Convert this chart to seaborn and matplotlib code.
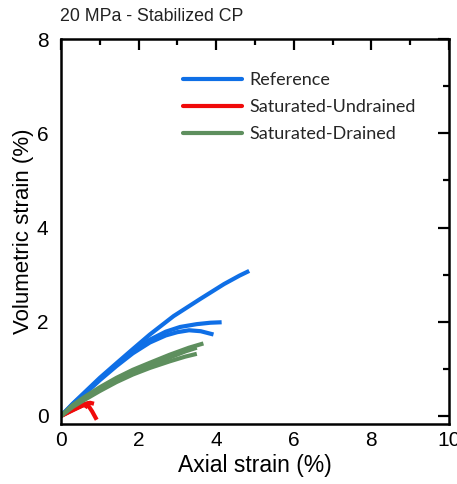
import numpy as np
import pandas as pd
import matplotlib
matplotlib.use("Agg")
import matplotlib.pyplot as plt
from matplotlib.lines import Line2D
from matplotlib.ticker import MultipleLocator
import seaborn as sns

# ---- data ----
ref1_x = [0.0, 0.3, 0.58, 1.0, 1.43, 1.85, 2.29, 2.9, 3.58, 4.2, 4.6, 4.85]
ref1_y = [0.0, 0.26, 0.48, 0.81, 1.12, 1.42, 1.73, 2.12, 2.48, 2.80, 2.98, 3.08]
ref2_x = [0.0, 0.3, 0.6, 1.0, 1.43, 1.85, 2.29, 2.7, 3.07, 3.5, 3.85, 4.14]
ref2_y = [0.0, 0.25, 0.47, 0.78, 1.09, 1.37, 1.62, 1.79, 1.89, 1.95, 1.98, 1.99]
ref3_x = [0.0, 0.3, 0.6, 1.0, 1.43, 1.85, 2.29, 2.7, 3.0, 3.3, 3.6, 3.93]
ref3_y = [0.0, 0.24, 0.46, 0.76, 1.06, 1.33, 1.56, 1.71, 1.78, 1.82, 1.80, 1.73]

und1_x = [0.0, 0.2, 0.4, 0.6, 0.75, 0.85]
und1_y = [0.0, 0.10, 0.19, 0.25, 0.28, 0.26]
und2_x = [0.0, 0.3, 0.55, 0.65, 0.72, 0.8, 0.92]
und2_y = [0.0, 0.12, 0.22, 0.25, 0.20, 0.10, -0.08]
und3_x = [0.0, 0.3, 0.6, 0.7, 0.62]
und3_y = [0.0, 0.13, 0.24, 0.27, 0.17]

dr1_x = [0.0, 0.3, 0.58, 1.0, 1.43, 1.85, 2.29, 2.8, 3.3, 3.67]
dr1_y = [0.0, 0.23, 0.39, 0.61, 0.81, 0.98, 1.13, 1.30, 1.45, 1.54]
dr2_x = [0.0, 0.3, 0.58, 1.0, 1.43, 1.85, 2.29, 2.8, 3.2, 3.5]
dr2_y = [0.0, 0.21, 0.36, 0.57, 0.77, 0.93, 1.08, 1.24, 1.37, 1.45]
dr3_x = [0.0, 0.3, 0.58, 1.0, 1.43, 1.85, 2.29, 2.8, 3.2, 3.5]
dr3_y = [0.0, 0.19, 0.33, 0.53, 0.72, 0.88, 1.02, 1.16, 1.26, 1.32]

labels = ["Reference", "Saturated-Undrained", "Saturated-Drained"]
colors = ["#0f6fe6", "#f00a0a", "#5e8f5e"]

curves = [
    (labels[0], "r1", ref1_x, ref1_y), (labels[0], "r2", ref2_x, ref2_y), (labels[0], "r3", ref3_x, ref3_y),
    (labels[1], "u1", und1_x, und1_y), (labels[1], "u2", und2_x, und2_y), (labels[1], "u3", und3_x, und3_y),
    (labels[2], "d1", dr1_x, dr1_y), (labels[2], "d2", dr2_x, dr2_y), (labels[2], "d3", dr3_x, dr3_y),
]
rows = []
for grp, uid, xs, ys in curves:
    for i, (x, y) in enumerate(zip(xs, ys)):
        rows.append({"group": grp, "unit": uid, "order": i, "x": x, "y": y})
df = pd.DataFrame(rows)

sns.set_theme(style="white")
plt.rcParams["font.family"] = ["Liberation Sans", "DejaVu Sans"]

fig = plt.figure(figsize=(4.57, 4.84), dpi=100)
ax = fig.add_axes([0.1335, 0.124, 0.849, 0.795])

palette = dict(zip(labels, colors))
sns.lineplot(data=df, x="x", y="y", hue="group", units="unit", estimator=None,
             sort=False, palette=palette, linewidth=3.0, legend=False, ax=ax,
             solid_capstyle="butt")

ax.set_xlim(0, 10)
ax.set_ylim(-0.17, 8)
ax.xaxis.set_major_locator(MultipleLocator(2))
ax.xaxis.set_minor_locator(MultipleLocator(1))
ax.yaxis.set_major_locator(MultipleLocator(2))
ax.yaxis.set_minor_locator(MultipleLocator(1))
ax.tick_params(which="both", direction="in", top=True, right=True, width=1.6,
               color="black", labelsize=15, labelcolor="black")
ax.tick_params(which="major", length=8)
ax.tick_params(axis="x", which="major", pad=5)
ax.tick_params(axis="y", which="major", pad=9)
ax.tick_params(which="minor", length=4.5)
for s in ax.spines.values():
    s.set_color("black")
    s.set_linewidth(1.8)

ax.set_xlabel("Axial strain (%)", fontsize=16.5, color="black", labelpad=3)
ax.set_ylabel("Volumetric strain (%)", fontsize=16, color="black", labelpad=2)

fig.text(0.131, 0.965, "20 MPa - Stabilized CP", fontsize=12.8, ha="left",
         va="center", color="#222222")

handles = [Line2D([], [], color=c, lw=3.0) for c in colors]
leg = ax.legend(handles, labels, loc="upper left", bbox_to_anchor=(0.314, 0.914),
                frameon=False, borderpad=0, borderaxespad=0, handlelength=3.3,
                handletextpad=0.4, labelspacing=0.6,
                prop={"family": "Lato", "size": 13})

fig.savefig("out.png", dpi=100)
